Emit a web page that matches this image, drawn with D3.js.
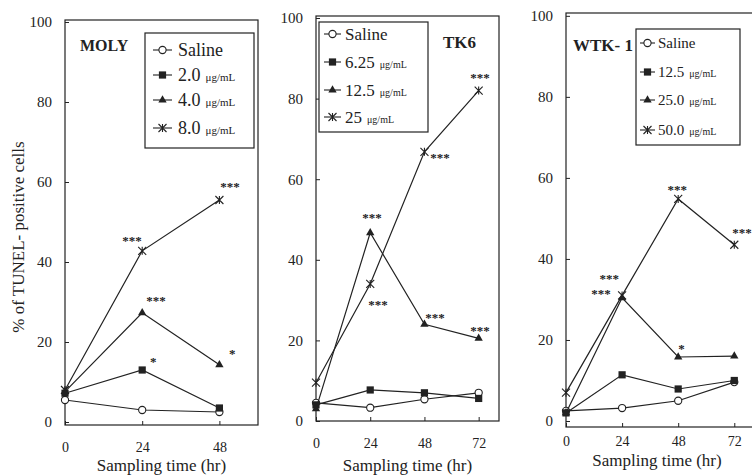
<!DOCTYPE html>
<html><head><meta charset="utf-8">
<script src="https://cdn.jsdelivr.net/npm/d3@7"></script>
<style>
html,body{margin:0;padding:0;background:#fff;}
svg{display:block;font-family:"Liberation Serif","Times New Roman",serif;}
</style></head>
<body><svg id="c" width="752" height="475"></svg>
<script>
// ---------- DATA ----------
const molyTimes = [0, 24, 48];
const molyTicksX = [0, 24, 48];
const molySaline = [5.5, 3, 2.5];
const moly2_0 = [7.2, 13, 3.5];
const moly4_0 = [7.6, 27.3, 14.3];
const moly8_0 = [8, 42.8, 55.5];
const molyLabels = ["Saline", "2.0", "4.0", "8.0"];
const molySig = [[20.8, 46, "***"], [51.3, 59.5, "***"], [28.3, 31, "***"], [27.4, 15.7, "*"], [52, 17.7, "*"]];

const tk6Times = [0, 24, 48, 72];
const tk6Saline = [4.5, 3.3, 5.4, 7];
const tk6_6_25 = [4, 7.7, 7, 5.6];
const tk6_12_5 = [3, 46.7, 24, 20.5];
const tk6_25 = [9.5, 34, 66.8, 82];
const tk6Labels = ["Saline", "6.25", "12.5", "25"];
const tk6Sig = [[24.8, 51.1, "***"], [27.4, 29.5, "***"], [54.9, 66, "***"], [72.6, 85.9, "***"], [52.7, 26.3, "***"], [72.6, 23.1, "***"]];

const wtkTimes = [0, 24, 48, 72];
const wtkSaline = [2.5, 3.2, 5, 9.6];
const wtk12_5 = [2, 11.4, 7.9, 10];
const wtk25_0 = [2, 30.4, 15.8, 16];
const wtk50_0 = [7, 31, 54.8, 43.5];
const wtkLabels = ["Saline", "12.5", "25.0", "50.0"];
const wtkSig = [[18.5, 35.8, "***"], [15, 32.1, "***"], [47.6, 57.8, "***"], [75.3, 47.2, "***"], [49.4, 18.5, "*"]];

const yTicks = [0, 20, 40, 60, 80, 100];
const unitLabel = "\u03bcg/mL";
const markerTypes = ["circle", "square", "triangle", "star"];

// ---------- LAYOUT ----------
const panels = [
  { name: "MOLY", times: molyTimes, series: [molySaline, moly2_0, moly4_0, moly8_0], labels: molyLabels, sig: molySig,
    xTicks: molyTicksX, xDom: [0, 60], yDom: [-0.75, 100.5], L: 65, R: 258, T: 20, B: 425, xPad: 17,
    title: [80, 51, 16], leg: { x0: 145, y0: 33, x1: 254, y1: 148, rows: [50, 75, 100, 128], mx0: 153, mx1: 172, tx: 178, fs: 18, us: 11 },
    xlabY: 471 },
  { name: "TK6", times: tk6Times, series: [tk6Saline, tk6_6_25, tk6_12_5, tk6_25], labels: tk6Labels, sig: tk6Sig,
    xTicks: tk6Times, xDom: [0, 81], yDom: [0, 100.5], L: 316, R: 499, T: 16, B: 421, xPad: 17,
    title: [443, 48, 17], leg: { x0: 319, y0: 22, x1: 428, y1: 132, rows: [34, 62, 90, 117], mx0: 324, mx1: 341, tx: 345, fs: 17, us: 10 },
    xlabY: 471 },
  { name: "WTK- 1", times: wtkTimes, series: [wtkSaline, wtk12_5, wtk25_0, wtk50_0], labels: wtkLabels, sig: wtkSig,
    xTicks: wtkTimes, xDom: [0, 83], yDom: [-1.48, 100.7], L: 566, R: 760, T: 13, B: 427, xPad: 9,
    title: [573, 51, 17], leg: { x0: 636, y0: 29, x1: 740, y1: 145, rows: [43, 72, 100, 130], mx0: 640, mx1: 655, tx: 658, fs: 15, us: 10 },
    xlabY: 466 }
];

const ink = "#222";
const svg = d3.select("#c");

function drawMarker(g, type, x, y) {
  if (type === "circle") {
    g.append("circle").attr("cx", x).attr("cy", y).attr("r", 3.6).attr("fill", "#fff").attr("stroke", ink).attr("stroke-width", 1.1);
  } else if (type === "square") {
    g.append("rect").attr("x", x - 3.6).attr("y", y - 3.6).attr("width", 7.2).attr("height", 7.2).attr("fill", ink);
  } else if (type === "triangle") {
    g.append("path").attr("transform", `translate(${x},${y})`).attr("d", d3.symbol(d3.symbolTriangle, 30)()).attr("fill", ink);
  } else {
    const s = 4;
    g.append("path").attr("d", `M${x - s},${y - s}L${x + s},${y + s}M${x - s},${y + s}L${x + s},${y - s}M${x},${y - s}L${x},${y + s}`)
      .attr("stroke", ink).attr("stroke-width", 1.1).attr("fill", "none");
  }
}

panels.forEach(p => {
  const x = d3.scaleLinear().domain(p.xDom).range([p.L, p.R]);
  const y = d3.scaleLinear().domain(p.yDom).range([p.B, p.T]);
  const g = svg.append("g");

  // frame
  g.append("rect").attr("x", p.L).attr("y", p.T).attr("width", p.R - p.L).attr("height", p.B - p.T)
    .attr("fill", "none").attr("stroke", ink).attr("stroke-width", 1.2);

  // y axis (ticks inward)
  const ya = g.append("g").attr("transform", `translate(${p.L},0)`)
    .call(d3.axisLeft(y).tickValues(yTicks).tickSize(-4).tickPadding(13).tickFormat(d3.format("d")));
  ya.select(".domain").remove();
  ya.selectAll("line").attr("stroke", ink);
  ya.selectAll("text").attr("font-size", 15).attr("fill", ink).attr("font-family", "Liberation Serif");

  // x axis (ticks inward)
  const xa = g.append("g").attr("transform", `translate(0,${p.B})`)
    .call(d3.axisBottom(x).tickValues(p.xTicks).tickSize(-4).tickPadding(p.xPad).tickFormat(d3.format("d")));
  xa.select(".domain").remove();
  xa.selectAll("line").attr("stroke", ink);
  xa.selectAll("text").attr("font-size", 14).attr("fill", ink).attr("font-family", "Liberation Serif");

  g.append("text").attr("x", (p.L + Math.min(p.R, 752)) / 2 + (p === panels[2] ? -2 : 0)).attr("y", p.xlabY)
    .attr("text-anchor", "middle").attr("font-size", 17).attr("fill", ink).text("Sampling time (hr)");

  // lines + markers
  const line = d3.line().x((d, i) => x(p.times[i])).y(d => y(d));
  p.series.forEach((s, si) => {
    g.append("path").attr("d", line(s)).attr("fill", "none").attr("stroke", ink).attr("stroke-width", 1.2);
    s.forEach((v, i) => drawMarker(g, markerTypes[si], x(p.times[i]), y(v)));
  });

  // significance marks
  p.sig.forEach(([t, v, txt]) => {
    g.append("text").attr("x", x(t)).attr("y", y(v) + 7).attr("text-anchor", "middle")
      .attr("font-size", 13).attr("font-weight", "bold").attr("fill", ink).text(txt);
  });

  // title
  g.append("text").attr("x", p.title[0]).attr("y", p.title[1]).attr("font-size", p.title[2])
    .attr("font-weight", "bold").attr("fill", ink).text(p.name);

  // legend
  const lg = p.leg;
  g.append("rect").attr("x", lg.x0).attr("y", lg.y0).attr("width", lg.x1 - lg.x0).attr("height", lg.y1 - lg.y0)
    .attr("fill", "#fff").attr("stroke", ink).attr("stroke-width", 1.2);
  p.labels.forEach((lab, i) => {
    const ry = lg.rows[i];
    g.append("line").attr("x1", lg.mx0).attr("x2", lg.mx1).attr("y1", ry).attr("y2", ry).attr("stroke", ink).attr("stroke-width", 1.1);
    drawMarker(g, markerTypes[i], (lg.mx0 + lg.mx1) / 2, ry);
    const t = g.append("text").attr("x", lg.tx).attr("y", ry + lg.fs * 0.33).attr("fill", ink);
    t.append("tspan").attr("font-size", lg.fs).text(lab);
    if (i > 0) t.append("tspan").attr("font-size", lg.us).attr("dx", 5).text(unitLabel);
  });
});

// y axis title
svg.append("text").attr("transform", "translate(24,237) rotate(-90)").attr("text-anchor", "middle")
  .attr("font-size", 17).attr("fill", ink).text("% of TUNEL- positive cells");
</script>
</body></html>
